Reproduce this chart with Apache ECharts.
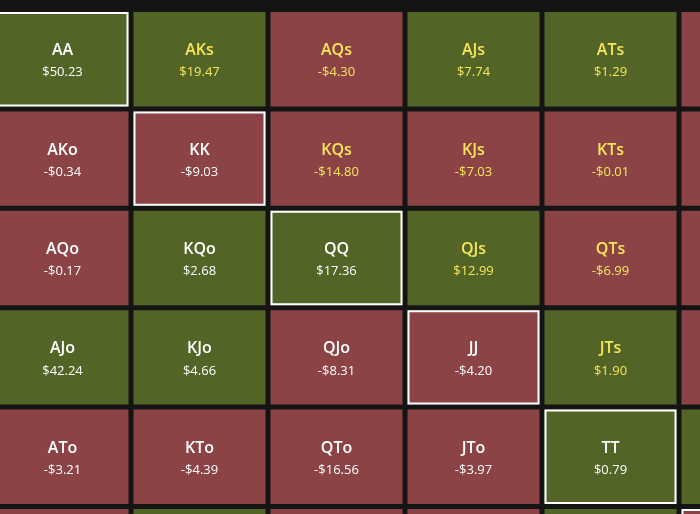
<!DOCTYPE html>
<html>
<head>
<meta charset="utf-8">
<script src="https://cdn.jsdelivr.net/npm/echarts@6/dist/echarts.min.js"></script>
<style>
html,body{margin:0;padding:0;background:#141414;}
#chart{width:700px;height:514px;}
</style>
</head>
<body>
<div id="chart"></div>
<script>
// Rank categories (full 13x13 hand grid; only the top-left part is in view)
const ranks = ['A','K','Q','J','T','9','8','7','6','5','4','3','2'];

// Expected value ($) per hand, rows = first rank, columns = second rank
const rowA = [50.23, 19.47, -4.30, 7.74, 1.29, -2.50];
const rowK = [-0.34, -9.03, -14.80, -7.03, -0.01, -3.10];
const rowQ = [-0.17, 2.68, 17.36, 12.99, -6.99, -4.20];
const rowJ = [42.24, 4.66, -8.31, -4.20, 1.90, -2.30];
const rowT = [-3.21, -4.39, -16.56, -3.97, 0.79, 2.10];
const row9 = [-2.00, 3.00, -5.00, -3.00, 1.00, -3.00];
const valueRows = [rowA, rowK, rowQ, rowJ, rowT, row9];

const GREEN = '#536427';
const RED = '#8b4346';
const YELLOW = '#f7e65a';
const WHITE = '#ffffff';

function handName(r, c) {
  if (r === c) return ranks[r] + ranks[c];
  if (c > r) return ranks[r] + ranks[c] + 's';
  return ranks[c] + ranks[r] + 'o';
}
function fmt(v) {
  return (v < 0 ? '-$' : '$') + Math.abs(v).toFixed(2);
}

const data = [];
valueRows.forEach((row, r) => {
  row.forEach((v, c) => {
    data.push([ranks[c], ranks[r], v, handName(r, c), r === c ? 1 : 0, c > r ? 1 : 0]);
  });
});

const chart = echarts.init(document.getElementById('chart'), null, {renderer: 'canvas'});
chart.setOption({
  backgroundColor: '#141414',
  animation: false,
  grid: {left: -6, top: 9.5, width: 13 * 137, height: 13 * 99.4,
    containLabel: false, outerBoundsMode: 'none'},
  xAxis: {type: 'category', data: ranks, show: false},
  yAxis: {type: 'category', data: ranks, show: false, inverse: true},
  series: [{
    type: 'custom',
    data: data,
    renderItem: function (params, api) {
      const xi = api.value(0), yi = api.value(1);
      const c = api.coord([xi, yi]);
      const s = api.size([1, 1]);
      const v = api.value(2);
      const name = data[params.dataIndex][3];
      const pair = data[params.dataIndex][4];
      const suited = data[params.dataIndex][5];
      const gap = 2.5;
      const x0 = c[0] - s[0] / 2 + gap, y0 = c[1] - s[1] / 2 + gap;
      const w = s[0] - 2 * gap, h = s[1] - 2 * gap;
      const txtColor = suited ? YELLOW : WHITE;
      const children = [{
        type: 'rect',
        shape: {x: x0, y: y0, width: w, height: h},
        style: {fill: v >= 0 ? GREEN : RED}
      }];
      if (pair) {
        children.push({
          type: 'rect',
          shape: {x: x0 + 1, y: y0 + 1, width: w - 2, height: h - 2},
          style: {fill: null, stroke: WHITE, lineWidth: 2}
        });
      }
      children.push({
        type: 'text',
        style: {x: c[0], y: c[1] - 8.5, text: name, fill: txtColor,
          font: '600 16px "Open Sans"', align: 'center', verticalAlign: 'middle'}
      });
      children.push({
        type: 'text',
        style: {x: c[0], y: c[1] + 13.5, text: fmt(v), fill: txtColor,
          font: '13px "Open Sans"', align: 'center', verticalAlign: 'middle'}
      });
      return {type: 'group', children: children};
    }
  }]
});
</script>
</body>
</html>
